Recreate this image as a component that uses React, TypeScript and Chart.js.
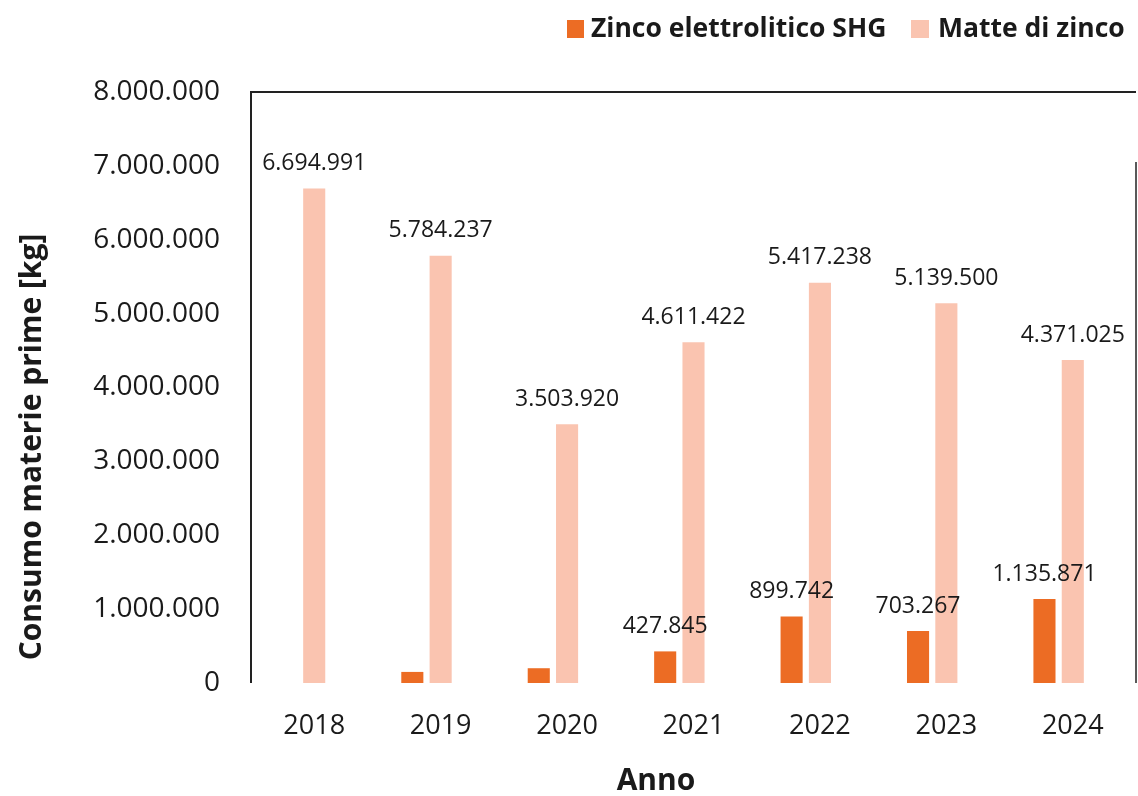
import React, { useEffect, useRef } from "react";
import { Chart, registerables } from "chart.js";

Chart.register(...registerables);

const years = ["2018", "2019", "2020", "2021", "2022", "2023", "2024"];
const zincoSHG = [0, 150000, 200000, 427845, 899742, 703267, 1135871];
const matteZinco = [6694991, 5784237, 3503920, 4611422, 5417238, 5139500, 4371025];
const zincoLabels = ["", "", "", "427.845", "899.742", "703.267", "1.135.871"];
const matteLabels = ["6.694.991", "5.784.237", "3.503.920", "4.611.422", "5.417.238", "5.139.500", "4.371.025"];
const yTitle = "Consumo materie prime [kg]";
const xTitle = "Anno";
const legendNames = ["Zinco elettrolitico SHG", "Matte di zinco"];

const ORANGE = "#EC6C24";
const PINK = "#FAC4B0";
const TEXT = "#1a1a1a";
const FONT = "'Open Sans', sans-serif";

const fmt = (v: number) => String(Math.round(v)).replace(/\B(?=(\d{3})+(?!\d))/g, ".");

const decorPlugin = {
  id: "decor",
  afterDatasetsDraw(chart: any) {
    const ctx = chart.ctx;
    const a = chart.chartArea;
    ctx.save();
    // frame
    ctx.strokeStyle = "#222";
    ctx.lineWidth = 2;
    ctx.beginPath();
    ctx.moveTo(a.left, a.bottom);
    ctx.lineTo(a.left, a.top);
    ctx.lineTo(a.right, a.top);
    ctx.stroke();
    ctx.lineWidth = 1.5;
    ctx.beginPath();
    ctx.moveTo(a.right, a.top + 70);
    ctx.lineTo(a.right, a.bottom);
    ctx.stroke();

    // data labels
    ctx.fillStyle = TEXT;
    ctx.font = `23px ${FONT}`;
    ctx.textAlign = "center";
    ctx.textBaseline = "middle";
    const labelSets = [zincoLabels, matteLabels];
    [0, 1].forEach((di) => {
      const meta = chart.getDatasetMeta(di);
      meta.data.forEach((bar: any, i: number) => {
        const t = labelSets[di][i];
        if (!t) return;
        ctx.fillText(t, bar.x, bar.y - 25);
      });
    });

    // axis titles
    ctx.font = `bold 30px ${FONT}`;
    ctx.fillText(xTitle, 656, 781);
    ctx.save();
    ctx.translate(32, 447);
    ctx.rotate(-Math.PI / 2);
    ctx.fillText(yTitle, 0, 0);
    ctx.restore();

    // legend
    ctx.font = `bold 26.5px ${FONT}`;
    ctx.textAlign = "left";
    ctx.fillStyle = ORANGE;
    ctx.fillRect(567, 20, 17, 18);
    ctx.fillStyle = TEXT;
    ctx.fillText(legendNames[0], 591, 29);
    ctx.fillStyle = PINK;
    ctx.fillRect(911, 20, 18, 18);
    ctx.fillStyle = TEXT;
    ctx.fillText(legendNames[1], 938, 29);
    ctx.restore();
  },
};

export default function App() {
  const ref = useRef<HTMLCanvasElement | null>(null);
  useEffect(() => {
    document.body.style.margin = "0";
    const chart = new Chart(ref.current as HTMLCanvasElement, {
      type: "bar",
      data: {
        labels: years,
        datasets: [
          { label: legendNames[0], data: zincoSHG, backgroundColor: ORANGE },
          { label: legendNames[1], data: matteZinco, backgroundColor: PINK },
          { label: "", data: years.map(() => null), backgroundColor: "transparent" },
        ],
      },
      options: {
        responsive: false,
        animation: false,
        events: [],
        layout: { padding: { left: 0, top: 92, right: 2, bottom: 0 } },
        datasets: { bar: { categoryPercentage: 0.672, barPercentage: 0.78 } },
        plugins: { legend: { display: false }, tooltip: { enabled: false }, title: { display: false } },
        scales: {
          x: {
            grid: { display: false, drawTicks: false },
            border: { display: false },
            ticks: { color: TEXT, font: { family: FONT, size: 27 }, padding: 27 },
            afterFit: (s: any) => {
              s.height = 113;
            },
          },
          y: {
            min: 0,
            max: 8000000,
            grid: { display: false, drawTicks: false },
            border: { display: false },
            ticks: {
              stepSize: 1000000,
              color: TEXT,
              font: { family: FONT, size: 28 },
              padding: 31,
              callback: (v: any) => fmt(Number(v)),
            },
            afterFit: (s: any) => {
              s.width = 251;
            },
          },
        },
      },
      plugins: [decorPlugin],
    } as any);
    return () => chart.destroy();
  }, []);
  return (
    <div style={{ position: "absolute", left: 0, top: 0, width: 1138, height: 796, background: "#fff" }}>
      <canvas ref={ref} width={1138} height={796} style={{ width: 1138, height: 796 }} />
    </div>
  );
}
